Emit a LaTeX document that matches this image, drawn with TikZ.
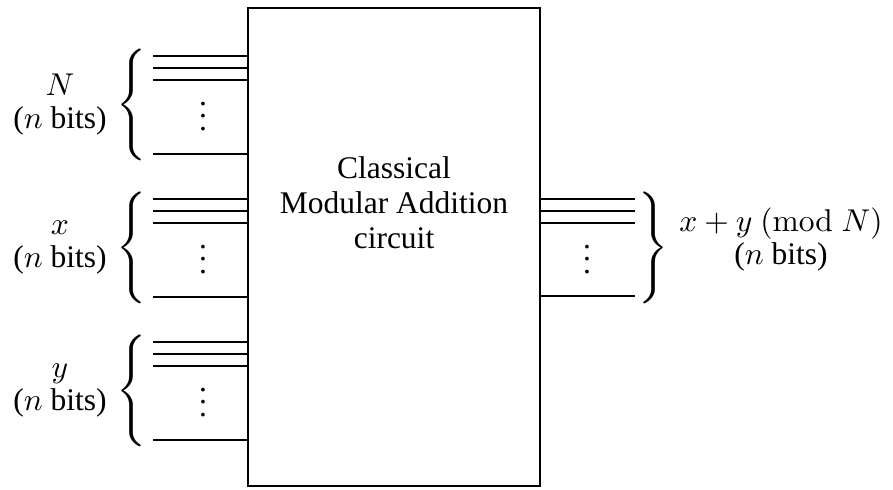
\documentclass[tikz,border=0pt]{standalone}
\usepackage[no-math]{fontspec}
\setmainfont{Liberation Serif}
\begin{document}
\begin{tikzpicture}[x=0.3175pt,y=-0.3175pt,
  wire/.style={line width=0.8pt},
  circuitbox/.style={draw,line width=0.9pt,inner sep=0pt,minimum width=92.7pt,minimum height=151.8pt},
  title/.style={align=center,inner sep=0pt,font=\fontsize{10}{11.1}\selectfont},
  lbl/.style={align=center,inner sep=0pt,font=\fontsize{10}{10.5}\selectfont},
  dotsnode/.style={inner sep=0pt,font=\fontsize{10}{12}\selectfont},
  bracenode/.style={inner sep=0pt}
]
\useasboundingbox (0,0) rectangle (893,489);
\node[circuitbox] (box) at (394,247) {};
\node[title] (txt) at (394,203) {Classical\\Modular Addition\\circuit};
% input groups
\foreach \g/\t/\lab in {N/56/{$N$},X/199/{$x$},Y/342/{$y$}}{
  \foreach \k/\d in {1/0,2/12,3/24,4/98}{
    \coordinate (\g\k) at (153,\t+\d);
    \draw[wire] (\g\k) -- (\g\k -| box.west);
  }
  \node[dotsnode] (\g d) at (203,\t+51) {$\vdots$};
  \node[bracenode] (\g b) at (132,\t+49) {\resizebox*{!}{35.5pt}{$\Bigg\{$}};
  \node[lbl] (\g l) at (60,\t+49) {\lab\\($n$ bits)};
}
% output group
\foreach \k/\d in {1/0,2/12,3/24,4/97}{
  \coordinate (R\k) at (635,199+\d);
  \draw[wire] (R\k -| box.east) -- (R\k);
}
\node[dotsnode] (Rd) at (587,250) {$\vdots$};
\node[bracenode] (Rb) at (653,248) {\resizebox*{!}{35.5pt}{$\Bigg\}$}};
\node[lbl] (Rl) at (781,240) {$x+y\ (\mathrm{mod}\;N)$\\($n$ bits)};
\end{tikzpicture}
\end{document}
